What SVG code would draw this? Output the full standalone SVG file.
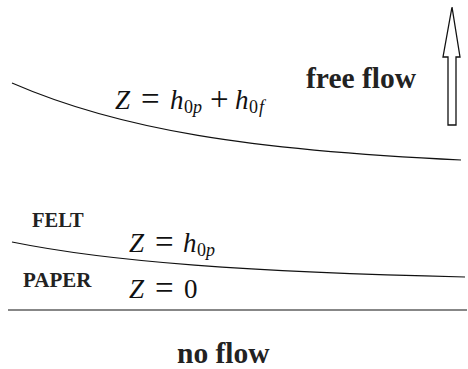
<svg xmlns="http://www.w3.org/2000/svg" width="468" height="369" viewBox="0 0 468 369">
<style>
.ln{fill:none;stroke:#111;stroke-width:1.1}
.lab{font-family:"Liberation Serif","Times New Roman",serif;font-weight:bold;fill:#222}
.m{font-family:"Liberation Serif","Times New Roman",serif;font-size:27px;fill:#111}
.i{font-style:italic}
.s{font-size:18px}
.o{font-size:33px}
</style>
<rect width="468" height="369" fill="#fff"/>
<g id="connectors">
<path class="ln" d="M12,83 C120,130 250,150 461,160"/>
<path class="ln" d="M12,242 C110,262 250,272 465,277"/>
<path class="ln" d="M8,310 L467,310"/>
</g>
<g id="arrow">
<polygon points="452,7 460,57 456,57 456,125 448,125 448,57 443,57" fill="#fff" stroke="#111" stroke-width="1.3" stroke-linejoin="miter"/>
</g>
<g id="free-flow"><text class="lab" x="306" y="88" font-size="29.5">free flow</text></g>
<g id="no-flow"><text class="lab" x="177" y="363" font-size="29.5">no flow</text></g>
<g id="felt"><text class="lab" x="32" y="227" font-size="20.5">FELT</text></g>
<g id="paper"><text class="lab" x="23" y="287" font-size="21">PAPER</text></g>
<g id="eq-top">
<text class="m"><tspan class="i" x="115" y="109">Z</tspan><tspan class="o" x="141" y="110">=</tspan><tspan class="i" x="170" y="109">h</tspan><tspan class="s" x="184" y="113">0</tspan><tspan class="s i" x="193" y="113">p</tspan><tspan class="o" x="210" y="110">+</tspan><tspan class="i" x="235" y="109">h</tspan><tspan class="s" x="249" y="113">0</tspan><tspan class="s i" x="259" y="113">f</tspan></text>
</g>
<g id="eq-mid">
<text class="m"><tspan class="i" x="129" y="252">Z</tspan><tspan class="o" x="155" y="253">=</tspan><tspan class="i" x="183" y="252">h</tspan><tspan class="s" x="197" y="256">0</tspan><tspan class="s i" x="206" y="256">p</tspan></text>
</g>
<g id="eq-bot">
<text class="m"><tspan class="i" x="129" y="298">Z</tspan><tspan class="o" x="155" y="299">=</tspan><tspan x="184" y="298">0</tspan></text>
</g>
</svg>
